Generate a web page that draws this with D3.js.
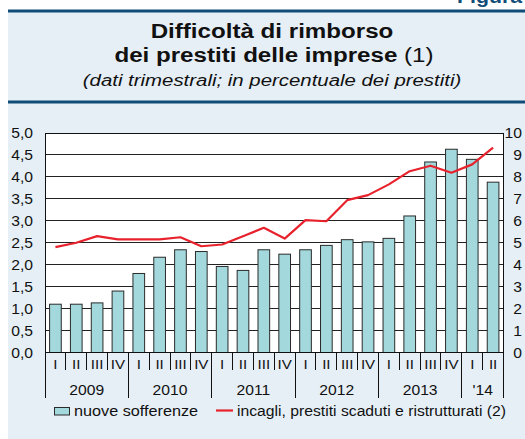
<!DOCTYPE html>
<html><head><meta charset="utf-8">
<script src="https://cdn.jsdelivr.net/npm/d3@7"></script>
<style>html,body{margin:0;padding:0;background:#fff;}svg{display:block;}text{font-family:"Liberation Sans",Arial,sans-serif;}</style>
</head><body><div id="chart"></div>
<script>
const quarters = ["I","II","III","IV","I","II","III","IV","I","II","III","IV","I","II","III","IV","I","II","III","IV","I","II"];
const years = ["2009","2010","2011","2012","2013","'14"];
const yearSpans = [4,4,4,4,4,2];
const nuoveSofferenze = [1.10,1.10,1.13,1.40,1.80,2.17,2.34,2.30,1.96,1.87,2.34,2.24,2.34,2.44,2.57,2.52,2.60,3.11,4.34,4.63,4.40,3.88];
const incagli = [4.80,5.00,5.30,5.15,5.15,5.15,5.25,4.84,4.92,5.30,5.68,5.19,6.03,5.98,6.94,7.17,7.66,8.26,8.51,8.19,8.57,9.33];
const leftTicks = [0,0.5,1,1.5,2,2.5,3,3.5,4,4.5,5];
const rightTicks = [0,1,2,3,4,5,6,7,8,9,10];
const legendLabels = ["nuove sofferenze","incagli, prestiti scaduti e ristrutturati (2)"];

const W = 525, H = 439;
const SX = 1.12;
const svg = d3.select("#chart").append("svg").attr("width", W).attr("height", H);
const navy = "#0f4c78";

function txt(x, y, s, o) {
  o = o || {};
  const t = svg.append("text")
    .attr("transform", `translate(${x},${y}) scale(${o.sx || SX},1)`)
    .attr("text-anchor", o.anchor || "start")
    .attr("font-size", o.size || 14)
    .attr("font-weight", o.weight || "normal")
    .attr("font-style", o.style || "normal")
    .attr("fill", o.fill || "#111");
  if (o.parts) {
    o.parts.forEach(p => t.append("tspan").attr("font-weight", p.weight || "normal").text(p.t));
  } else t.text(s);
  return t;
}

// panel background
svg.append("rect").attr("x", 8).attr("y", 10).attr("width", W - 8).attr("height", H - 10).attr("fill", "#e6eff6");
svg.append("line").attr("x1", 8).attr("x2", W).attr("y1", 11).attr("y2", 11).attr("stroke", navy).attr("stroke-width", 3);
svg.append("line").attr("x1", 8).attr("x2", W).attr("y1", 102).attr("y2", 102).attr("stroke", navy).attr("stroke-width", 3);
txt(522, 3, "Figura", {anchor: "end", size: 19, weight: "bold", fill: navy});

// titles
txt(272, 38, "Difficoltà di rimborso", {anchor: "middle", size: 21, weight: "bold", sx: 1.15});
txt(274, 62, null, {anchor: "middle", size: 21, sx: 1.15, parts: [{t: "dei prestiti delle imprese", weight: "bold"}, {t: " (1)"}]});
txt(272, 86, "(dati trimestrali; in percentuale dei prestiti)", {anchor: "middle", size: 17, style: "italic", sx: 1.2});

// plot
const x0 = 45, x1 = 503.5, yTop = 133, yBot = 352.5;
const x = d3.scaleBand().domain(d3.range(quarters.length)).range([x0, x1]).paddingInner(0.44).paddingOuter(0.22);
const yL = d3.scaleLinear().domain([0, 5]).range([yBot, yTop]);
const yR = d3.scaleLinear().domain([0, 10]).range([yBot, yTop]);

svg.append("rect").attr("x", x0).attr("y", yTop).attr("width", x1 - x0).attr("height", yBot - yTop).attr("fill", "#fff");

// gridlines
svg.append("g").selectAll("line").data(leftTicks.slice(1)).join("line")
  .attr("x1", x0).attr("x2", x1).attr("y1", d => yL(d)).attr("y2", d => yL(d))
  .attr("stroke", "#222").attr("stroke-width", 1).attr("shape-rendering", "crispEdges");

// bars
svg.append("g").selectAll("rect").data(nuoveSofferenze).join("rect")
  .attr("x", (d, i) => x(i)).attr("width", x.bandwidth())
  .attr("y", d => yL(d)).attr("height", d => yBot - yL(d))
  .attr("fill", "#a3d9dc").attr("stroke", "#2a2a2a").attr("stroke-width", 1);

// line
const cx = i => x(i) + x.bandwidth() / 2;
svg.append("path").datum(incagli)
  .attr("d", d3.line().x((d, i) => cx(i)).y(d => yR(d)))
  .attr("fill", "none").attr("stroke", "#e8222c").attr("stroke-width", 2.2).attr("stroke-linejoin", "round");

// frame
svg.append("rect").attr("x", x0).attr("y", yTop).attr("width", x1 - x0).attr("height", yBot - yTop)
  .attr("fill", "none").attr("stroke", "#111").attr("stroke-width", 1).attr("shape-rendering", "crispEdges");

// left tick labels
leftTicks.forEach(t => txt(33, yL(t) + 5, d3.format(".1f")(t).replace(".", ","), {anchor: "end", size: 14}));
// right tick labels
rightTicks.forEach(t => txt(522, yR(t) + 5, String(t), {anchor: "end", size: 14}));

// x axis separators
const bandEdge = i => x0 + i * (x1 - x0) / quarters.length;
let idx = 0;
const yearEdges = [0];
yearSpans.forEach(s => { idx += s; yearEdges.push(idx); });
for (let i = 0; i <= quarters.length; i++) {
  const isYear = yearEdges.includes(i);
  svg.append("line").attr("x1", bandEdge(i)).attr("x2", bandEdge(i)).attr("y1", yBot).attr("y2", isYear ? 398 : 370)
    .attr("stroke", "#111").attr("stroke-width", 1).attr("shape-rendering", "crispEdges");
}
quarters.forEach((q, i) => txt(cx(i), 369, q, {anchor: "middle", size: 13.5}));
years.forEach((yv, k) => {
  const mid = (bandEdge(yearEdges[k]) + bandEdge(yearEdges[k + 1])) / 2;
  txt(mid, 395, yv, {anchor: "middle", size: 14});
});

// legend
svg.append("rect").attr("x", 54.5).attr("y", 407.5).attr("width", 15).attr("height", 7.5)
  .attr("fill", "#a3d9dc").attr("stroke", "#2a2a2a").attr("stroke-width", 1);
txt(74, 416, legendLabels[0], {size: 14.5});
svg.append("line").attr("x1", 216).attr("x2", 233).attr("y1", 410.5).attr("y2", 410.5).attr("stroke", "#e8222c").attr("stroke-width", 2.2);
txt(237, 416, legendLabels[1], {size: 14.3, sx: 1.1});
</script></body></html>
